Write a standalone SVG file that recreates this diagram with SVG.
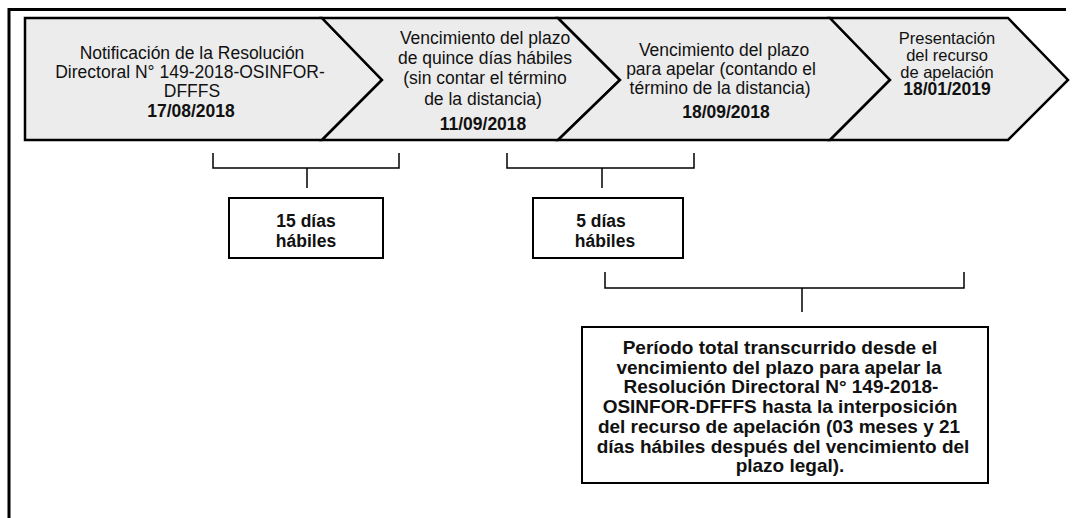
<svg xmlns="http://www.w3.org/2000/svg" width="1076" height="518" viewBox="0 0 1076 518">
<style>
.frame{fill:none;stroke:#000;stroke-width:3}
.chev{fill:#ececec;stroke:#000;stroke-width:2.5;stroke-linejoin:miter}
.box{fill:#fff;stroke:#000;stroke-width:2}
.br{fill:none;stroke:#000;stroke-width:1.5}
text{font-family:"Liberation Sans",Arial,sans-serif;fill:#111;text-anchor:middle}
.t{font-size:17.5px}
.t4{font-size:16.5px}
.b{font-size:17.5px;font-weight:bold}
.bb{font-size:19px;font-weight:bold}
</style>
<rect width="1076" height="518" fill="#fff"/>
<path class="frame" d="M9,518 V9.5 H1066"/>
<g id="step1">
<polygon class="chev" points="25,18 322,18 382,80 322,140 25,140"/>
<text class="t" x="192" y="59">Notificación de la Resolución</text>
<text class="t" x="190" y="78">Directoral N° 149-2018-OSINFOR-</text>
<text class="t" x="192" y="97">DFFFS</text>
<text class="b" x="191" y="117">17/08/2018</text>
</g>
<g id="step2">
<polygon class="chev" points="322,18 558,18 620,80 558,140 322,140 382,80"/>
<text class="t" x="485" y="44">Vencimiento del plazo</text>
<text class="t" x="485" y="64">de quince días hábiles</text>
<text class="t" x="485" y="84">(sin contar el término</text>
<text class="t" x="483" y="105">de la distancia)</text>
<text class="b" x="483" y="130">11/09/2018</text>
</g>
<g id="step3">
<polygon class="chev" points="558,18 830,18 890,80 830,140 558,140 620,80"/>
<text class="t" x="724" y="56">Vencimiento del plazo</text>
<text class="t" x="721" y="75">para apelar (contando el</text>
<text class="t" x="720" y="94">término de la distancia)</text>
<text class="b" x="726" y="118">18/09/2018</text>
</g>
<g id="step4">
<polygon class="chev" points="830,18 1008,18 1068,80 1008,140 830,140 890,80"/>
<text class="t4" x="947" y="44">Presentación</text>
<text class="t4" x="947" y="61">del recurso</text>
<text class="t4" x="947" y="78">de apelación</text>
<text class="b" x="947" y="95">18/01/2019</text>
</g>
<g id="connectors">
<path class="br" d="M213,153 V168 H399 V153 M307,168 V188"/>
<path class="br" d="M507,153 V168 H694 V153 M602,168 V188"/>
<path class="br" d="M605,272 V288 H964 V272 M802,288 V312"/>
</g>
<g id="box1">
<rect class="box" x="229" y="198" width="154" height="60"/>
<text class="b" x="306" y="227">15 días</text>
<text class="b" x="306" y="247">hábiles</text>
</g>
<g id="box2">
<rect class="box" x="533" y="198" width="150" height="60"/>
<text class="b" x="601" y="227">5 días</text>
<text class="b" x="605" y="247">hábiles</text>
</g>
<g id="box3">
<rect class="box" x="582" y="327" width="406" height="156"/>
<text class="bb" x="780" y="354">Período total transcurrido desde el</text>
<text class="bb" x="779" y="373.5">vencimiento del plazo para apelar la</text>
<text class="bb" x="781" y="393">Resolución Directoral N° 149-2018-</text>
<text class="bb" x="780" y="413">OSINFOR-DFFFS hasta la interposición</text>
<text class="bb" x="779" y="433">del recurso de apelación (03 meses y 21</text>
<text class="bb" x="783" y="452.5">días hábiles después del vencimiento del</text>
<text class="bb" x="790" y="472">plazo legal).</text>
</g>
</svg>
